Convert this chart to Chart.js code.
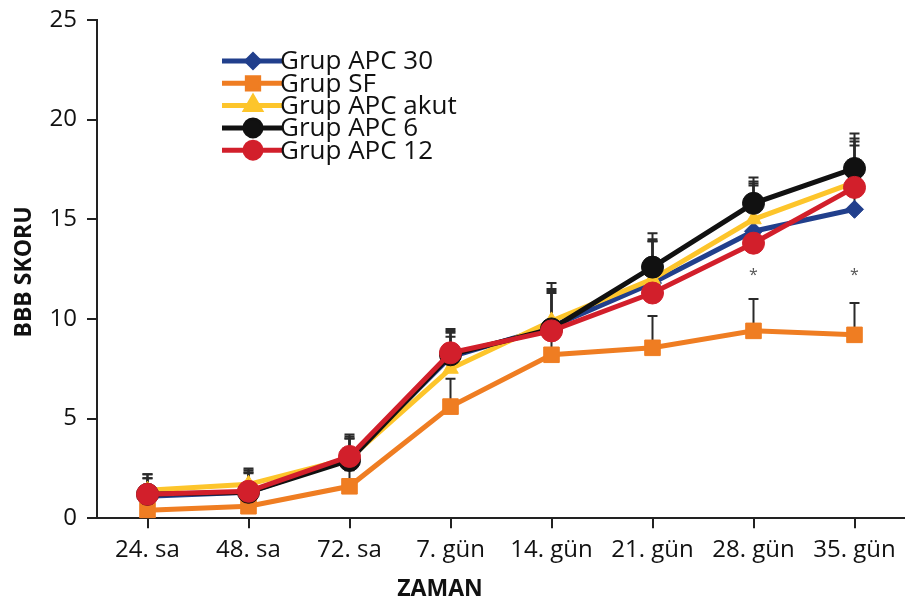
<!DOCTYPE html>
<html>
<head>
<meta charset="utf-8">
<script src="https://cdn.jsdelivr.net/npm/chart.js"></script>
<style>
  body { margin: 0; background: #fff; }
  #wrap { width: 905px; height: 604px; position: relative; }
</style>
</head>
<body>
<div id="wrap"><canvas id="bbb"></canvas></div>
<script>
const labels = ['24. sa', '48. sa', '72. sa', '7. gün', '14. gün', '21. gün', '28. gün', '35. gün'];

// mean BBB scores
const apc30 = [1.1, 1.3, 3.0, 8.1, 9.6, 11.8, 14.4, 15.5];
const sf = [0.4, 0.6, 1.6, 5.6, 8.2, 8.55, 9.4, 9.2];
const apcAkut = [1.4, 1.7, 3.0, 7.5, 9.9, 12.0, 15.0, 16.85];
const apc6 = [1.2, 1.3, 2.9, 8.2, 9.5, 12.6, 15.8, 17.55];
const apc12 = [1.2, 1.35, 3.1, 8.3, 9.4, 11.3, 13.8, 16.6];

// upper error bars (SD)
const apc30Err = [0.9, 1.0, 1.0, 1.2, 1.8, 2.1, 2.4, 3.2];
const sfErr = [0.6, 0.7, 0.8, 1.4, 1.5, 1.6, 1.6, 1.6];
const apcAkutErr = [0.8, 0.8, 1.0, 1.6, 1.6, 2.0, 1.9, 2.2];
const apc6Err = [1.0, 1.1, 1.3, 1.3, 2.3, 1.7, 1.3, 1.75];
const apc12Err = [0.8, 0.9, 1.0, 1.1, 1.9, 2.6, 2.9, 2.3];

// significance marks (*) above SF
const starAt = ['28. gün', '35. gün'];
const starValue = 12.2;

const FONT = '"Open Sans", "Noto Sans", sans-serif';

const mkSet = (label, data, err, color, style, radius, order) => ({
  label,
  data,
  err,
  borderColor: color,
  backgroundColor: color,
  borderWidth: 5,
  pointStyle: style,
  pointRadius: radius,
  pointHoverRadius: radius,
  pointBorderWidth: 1,
  fill: false,
  tension: 0,
  order,
});

const datasets = [
  mkSet('Grup APC 30', apc30, apc30Err, '#213f8c', 'rectRot', 9, 3),
  mkSet('Grup SF', sf, sfErr, '#ef7d22', 'rect', 11, 4),
  mkSet('Grup APC akut', apcAkut, apcAkutErr, '#fdc52b', 'triangle', 9, 2),
  mkSet('Grup APC 6', apc6, apc6Err, '#111111', 'circle', 11, 1),
  mkSet('Grup APC 12', apc12, apc12Err, '#d21f2b', 'circle', 11, 0),
];

// error bars, drawn under the lines
const errorBars = {
  id: 'errorBars',
  beforeDatasetsDraw(chart) {
    const { ctx } = chart;
    const x = chart.scales.x;
    const y = chart.scales.y;
    ctx.save();
    ctx.strokeStyle = '#2a2a2a';
    ctx.lineWidth = 2;
    chart.data.datasets.forEach((ds) => {
      ds.data.forEach((v, i) => {
        const px = x.getPixelForValue(i);
        const y0 = y.getPixelForValue(v);
        const y1 = y.getPixelForValue(v + ds.err[i]);
        ctx.beginPath();
        ctx.moveTo(px, y0);
        ctx.lineTo(px, y1);
        ctx.moveTo(px - 5, y1);
        ctx.lineTo(px + 5, y1);
        ctx.stroke();
      });
    });
    ctx.restore();
  },
  afterDatasetsDraw(chart) {
    const { ctx } = chart;
    const x = chart.scales.x;
    const y = chart.scales.y;
    ctx.save();
    ctx.fillStyle = '#555';
    ctx.font = '16px ' + FONT;
    ctx.textAlign = 'center';
    ctx.textBaseline = 'middle';
    starAt.forEach((lab) => {
      ctx.fillText('*', x.getPixelForValue(labels.indexOf(lab)), y.getPixelForValue(starValue));
    });
    ctx.restore();
  },
};

// legend with line + marker and axis titles
const legendAndTitles = {
  id: 'legendAndTitles',
  afterDraw(chart) {
    const { ctx } = chart;
    ctx.save();
    const rowTop = 61;
    const rowGap = 22.3;
    chart.data.datasets.forEach((ds, i) => {
      const cy = rowTop + i * rowGap;
      ctx.strokeStyle = ds.borderColor;
      ctx.lineWidth = 5;
      ctx.beginPath();
      ctx.moveTo(222, cy);
      ctx.lineTo(282, cy);
      ctx.stroke();
      ctx.fillStyle = ds.backgroundColor;
      Chart.helpers.drawPoint(ctx, {
        pointStyle: ds.pointStyle,
        radius: ds.pointStyle === 'rectRot' ? 6 : 8,
        rotation: 0,
        borderWidth: 1,
      }, 253, cy);
      ctx.fill();
      ctx.fillStyle = '#111';
      ctx.font = '26px ' + FONT;
      ctx.textAlign = 'left';
      ctx.textBaseline = 'middle';
      ctx.fillText(ds.label, 280, cy + 1);
    });

    ctx.fillStyle = '#111';
    ctx.font = 'bold 23px ' + FONT;
    ctx.textAlign = 'center';
    ctx.textBaseline = 'middle';
    ctx.fillText('ZAMAN', 440, 589);
    ctx.translate(24, 272);
    ctx.rotate(-Math.PI / 2);
    ctx.fillText('BBB SKORU', 0, 0);
    ctx.restore();
  },
};

new Chart('bbb', {
  type: 'line',
  data: { labels, datasets },
  plugins: [errorBars, legendAndTitles],
  options: {
    responsive: true,
    maintainAspectRatio: false,
    animation: false,
    layout: { autoPadding: false, padding: { top: 20, left: 0, right: 0, bottom: 31 } },
    plugins: {
      legend: { display: false },
      tooltip: { enabled: false },
    },
    scales: {
      x: {
        offset: true,
        afterFit: (scale) => { scale.paddingLeft = 0; scale.paddingRight = 0; },
        grid: { display: true, drawOnChartArea: false, offset: false, color: '#222', lineWidth: 2, tickLength: 10 },
        border: { color: '#222', width: 2 },
        ticks: { color: '#111', font: { family: FONT, size: 24 }, padding: 8, maxRotation: 0, autoSkip: false },
      },
      y: {
        min: 0,
        max: 25,
        afterFit: (scale) => { scale.width = 97; scale.paddingTop = 0; scale.paddingBottom = 0; },
        grid: { display: true, drawOnChartArea: false, color: '#222', lineWidth: 2, tickLength: 10 },
        border: { color: '#222', width: 2 },
        ticks: { stepSize: 5, color: '#111', font: { family: FONT, size: 24 }, padding: 10 },
      },
    },
  },
});
</script>
</body>
</html>
